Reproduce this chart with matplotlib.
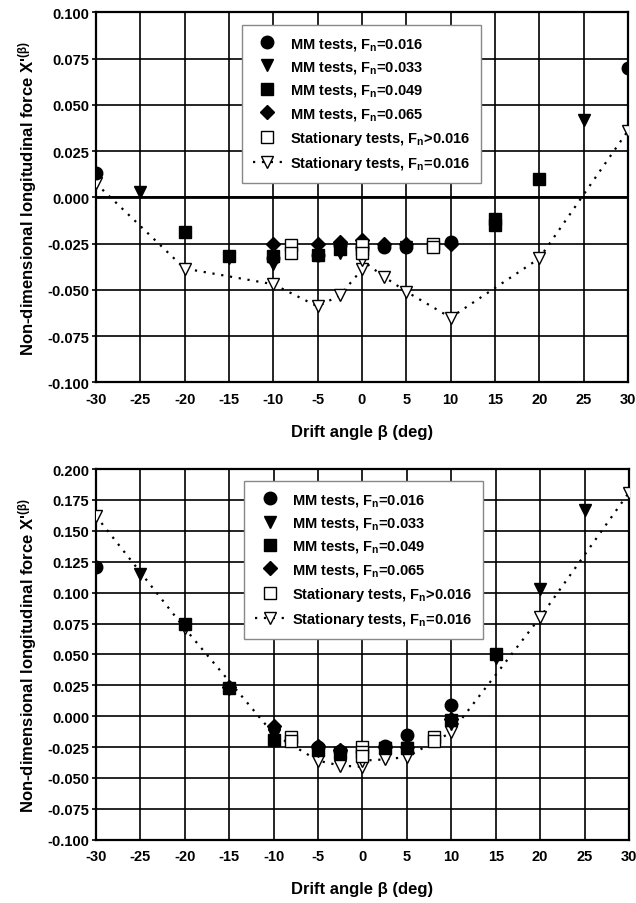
import matplotlib
matplotlib.use('Agg')
import matplotlib.pyplot as plt
from matplotlib.lines import Line2D

# --- Data: top panel ---
top_c_x = [-30, -10, -5, -2.5, 0, 2.5, 5, 10, 30]
top_c_y = [0.013, -0.033, -0.031, -0.026, -0.027, -0.027, -0.027, -0.024, 0.070]
top_t_x = [-25, -15, -10, -2.5, 0, 5, 25]
top_t_y = [0.003, -0.033, -0.036, -0.030, -0.029, -0.027, 0.042]
top_s_x = [-20, -15, -10, -5, -2.5, 0, 15, 15, 20]
top_s_y = [-0.019, -0.032, -0.032, -0.031, -0.028, -0.028, -0.012, -0.015, 0.010]
top_d_x = [-10, -5, -2.5, 0, 2.5, 5, 10]
top_d_y = [-0.025, -0.025, -0.024, -0.023, -0.025, -0.025, -0.025]
top_os_x = [-8, -8, 0, 0, 8, 8]
top_os_y = [-0.026, -0.030, -0.026, -0.030, -0.025, -0.027]
top_ot_x = [-30, -20, -10, -5, -2.5, 0, 0, 2.5, 5, 10, 20, 30]
top_ot_y = [0.0075, -0.0385, -0.047, -0.059, -0.053, -0.039, -0.034, -0.043, -0.051, -0.065, -0.033, 0.036]

# --- Data: bottom panel ---
bot_c_x = [-30, -5, -2.5, 2.5, 5, 10]
bot_c_y = [0.121, -0.025, -0.028, -0.024, -0.015, 0.009]
bot_t_x = [-25, -20, -15, -10, -5, -2.5, 2.5, 5, 10, 15, 20, 25]
bot_t_y = [0.115, 0.074, 0.022, -0.015, -0.028, -0.030, -0.026, -0.026, -0.006, 0.047, 0.103, 0.167]
bot_s_x = [-20, -15, -10, -5, -2.5, 2.5, 5, 10, 15]
bot_s_y = [0.075, 0.023, -0.019, -0.027, -0.030, -0.026, -0.026, -0.003, 0.050]
bot_d_x = [-15, -10, -5, -2.5, 2.5, 5, 10]
bot_d_y = [0.024, -0.008, -0.024, -0.027, -0.025, -0.025, -0.002]
bot_os_x = [-8, -8, 0, 0, 0, 8, 8]
bot_os_y = [-0.017, -0.020, -0.025, -0.029, -0.032, -0.017, -0.020]
bot_ot_x = [-30, -20, -10, -5, -2.5, 0, 0, 2.5, 5, 10, 20, 30]
bot_ot_y = [0.162, 0.071, -0.0145, -0.036, -0.040, -0.041, -0.036, -0.035, -0.033, -0.013, 0.080, 0.181]

x_ticks = [-30, -25, -20, -15, -10, -5, 0, 5, 10, 15, 20, 25, 30]
legend_labels = [
    'MM tests, F$_{\\rm n}$=0.016',
    'MM tests, F$_{\\rm n}$=0.033',
    'MM tests, F$_{\\rm n}$=0.049',
    'MM tests, F$_{\\rm n}$=0.065',
    'Stationary tests, F$_{\\rm n}$>0.016',
    'Stationary tests, F$_{\\rm n}$=0.016',
]

plt.rcParams['font.family'] = ['Liberation Sans', 'DejaVu Sans']
plt.rcParams['font.weight'] = 'bold'
plt.rcParams['axes.labelweight'] = 'bold'
plt.rcParams['axes.unicode_minus'] = False
plt.rcParams['mathtext.fontset'] = 'custom'
plt.rcParams['mathtext.rm'] = 'Liberation Sans:bold'
plt.rcParams['mathtext.it'] = 'Liberation Sans:bold'
plt.rcParams['mathtext.bf'] = 'Liberation Sans:bold'

MS = 9


def draw_panel(ax, data, y_lim, y_ticks, legend_anchor, thick_zero):
    (c_x, c_y), (t_x, t_y), (s_x, s_y), (d_x, d_y), (os_x, os_y), (ot_x, ot_y) = data

    ax.set_xlim(-30, 30)
    ax.set_ylim(*y_lim)
    ax.set_xticks(x_ticks)
    ax.set_xticklabels([str(v) for v in x_ticks], fontweight='bold', fontsize=10.5)
    ax.set_yticks(y_ticks)
    ax.set_yticklabels([f'{v:.3f}' for v in y_ticks], fontweight='bold', fontsize=10.5)
    ax.grid(True, color='black', linewidth=1.2)
    ax.set_axisbelow(True)
    if thick_zero:
        ax.axhline(0, color='black', linewidth=2.0, zorder=1)
    for sp in ax.spines.values():
        sp.set_linewidth(1.6)
    ax.tick_params(axis='x', length=0, pad=7)
    ax.tick_params(axis='y', length=3, width=1.2, pad=2)

    ax.plot(ot_x, ot_y, linestyle=(0, (1, 3)), color='black', linewidth=1.6,
            marker='v', markersize=MS, markerfacecolor='white', markeredgecolor='black',
            markeredgewidth=1.0, zorder=3)
    ax.plot(s_x, s_y, 's', color='black', markersize=MS - 1, zorder=4)
    ax.plot(t_x, t_y, 'v', color='black', markersize=MS, zorder=4)
    ax.plot(c_x, c_y, 'o', color='black', markersize=MS, zorder=4)
    ax.plot(d_x, d_y, 'D', color='black', markersize=MS - 2, zorder=4)
    ax.plot(os_x, os_y, 's', markersize=MS - 1, markerfacecolor='white',
            markeredgecolor='black', markeredgewidth=1.0, zorder=5)

    ax.set_xlabel('Drift angle \u03b2 (deg)', fontsize=12, fontweight='bold', labelpad=13)
    ax.set_ylabel("Non-dimensional longitudinal force X'$^{\\rm (\u03b2)}$",
                  fontsize=12, fontweight='bold', labelpad=6)

    handles = [
        Line2D([], [], linestyle='none', marker='o', color='black', markersize=MS),
        Line2D([], [], linestyle='none', marker='v', color='black', markersize=MS),
        Line2D([], [], linestyle='none', marker='s', color='black', markersize=MS - 1),
        Line2D([], [], linestyle='none', marker='D', color='black', markersize=MS - 2),
        Line2D([], [], linestyle='none', marker='s', markerfacecolor='white',
               markeredgecolor='black', markersize=MS - 1),
        Line2D([], [], linestyle=(0, (1, 3)), color='black', linewidth=1.6, marker='v',
               markerfacecolor='white', markeredgecolor='black', markersize=MS),
    ]
    leg = ax.legend(handles, legend_labels, loc='upper left', bbox_to_anchor=legend_anchor,
                    borderaxespad=0, fancybox=False, framealpha=1, edgecolor='#888888',
                    prop={'size': 10.5, 'weight': 'bold'}, handlelength=2.0,
                    labelspacing=0.5, borderpad=0.75, handletextpad=0.55)
    leg.get_frame().set_linewidth(1.0)
    leg.set_zorder(10)


fig = plt.figure(figsize=(6.36, 9.04), dpi=100)
ax_top = fig.add_axes([0.1509, 0.576, 0.8365, 0.4093])
ax_bot = fig.add_axes([0.1509, 0.07, 0.838, 0.41])

draw_panel(ax_top,
           [(top_c_x, top_c_y), (top_t_x, top_t_y), (top_s_x, top_s_y),
            (top_d_x, top_d_y), (top_os_x, top_os_y), (top_ot_x, top_ot_y)],
           (-0.1, 0.1),
           [-0.1, -0.075, -0.05, -0.025, 0.0, 0.025, 0.05, 0.075, 0.1],
           (0.274, 0.966), True)

draw_panel(ax_bot,
           [(bot_c_x, bot_c_y), (bot_t_x, bot_t_y), (bot_s_x, bot_s_y),
            (bot_d_x, bot_d_y), (bot_os_x, bot_os_y), (bot_ot_x, bot_ot_y)],
           (-0.1, 0.2),
           [-0.1, -0.075, -0.05, -0.025, 0.0, 0.025, 0.05, 0.075, 0.1, 0.125, 0.15, 0.175, 0.2],
           (0.278, 0.968), False)

fig.savefig('out.png', dpi=100)
plt.close(fig)
